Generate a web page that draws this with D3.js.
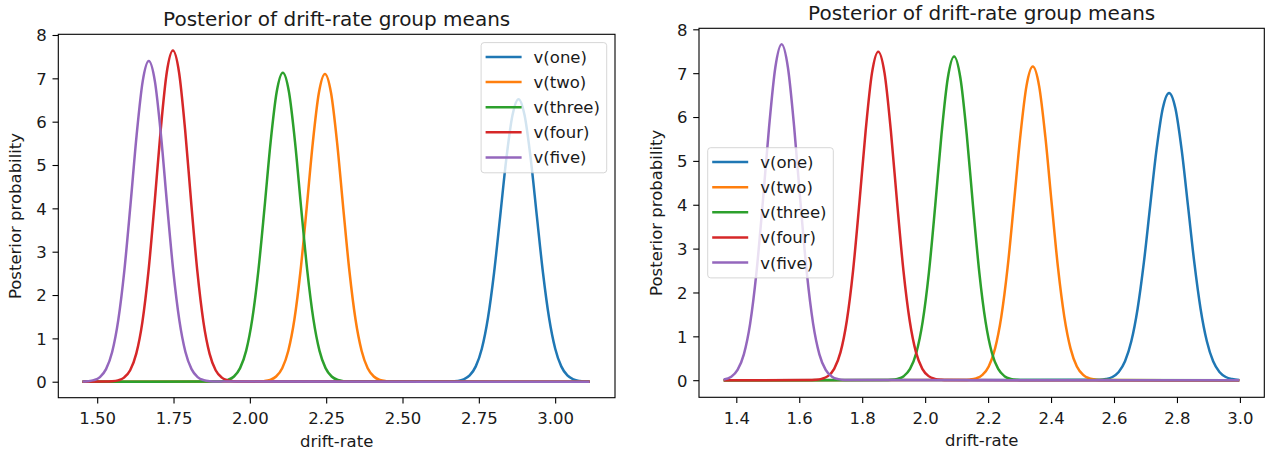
<!DOCTYPE html>
<html>
<head>
<meta charset="utf-8">
<script src="https://cdn.jsdelivr.net/npm/d3@7"></script>
<style>
  html, body { margin: 0; padding: 0; background: #ffffff; }
  svg { display: block; }
  text { font-family: "DejaVu Sans", "Liberation Sans", sans-serif; fill: #1a1a1a; }
</style>
</head>
<body>
<svg id="chart" width="1266" height="453"></svg>
<script>
// ---------------- data ----------------
const seriesNames = ["v(one)", "v(two)", "v(three)", "v(four)", "v(five)"];
const seriesColors = ["#1f77b4", "#ff7f0e", "#2ca02c", "#d62728", "#9467bd"];

const titleText = "Posterior of drift-rate group means";
const xLabelText = "drift-rate";
const yLabelText = "Posterior probability";

const leftXTicks = [1.50, 1.75, 2.00, 2.25, 2.50, 2.75, 3.00];
const rightXTicks = [1.4, 1.6, 1.8, 2.0, 2.2, 2.4, 2.6, 2.8, 3.0];
const yTicks = [0, 1, 2, 3, 4, 5, 6, 7, 8];

// left panel curves: [drift-rate, density]
const leftOne = [[1.452,0],[2.660,0.005],[2.680,0.017],[2.700,0.053],[2.720,0.145],[2.740,0.354],[2.760,0.767],[2.780,1.475],[2.800,2.52],[2.820,3.82],[2.840,5.14],[2.860,6.14],[2.880,6.52],[2.900,6.14],[2.920,5.14],[2.940,3.82],[2.960,2.52],[2.980,1.475],[3.000,0.767],[3.020,0.354],[3.040,0.145],[3.060,0.053],[3.080,0.017],[3.100,0.005],[3.113,0.002]];
const leftTwo = [[1.452,0],[2.026,0.003],[2.046,0.012],[2.066,0.040],[2.086,0.120],[2.106,0.312],[2.126,0.715],[2.146,1.44],[2.166,2.56],[2.186,4.00],[2.206,5.50],[2.226,6.66],[2.246,7.10],[2.266,6.66],[2.286,5.50],[2.306,4.00],[2.326,2.56],[2.346,1.44],[2.366,0.715],[2.386,0.312],[2.406,0.120],[2.426,0.040],[2.446,0.012],[2.466,0.003],[3.113,0]];
const leftThree = [[1.452,0],[1.888,0.003],[1.908,0.012],[1.928,0.041],[1.948,0.120],[1.968,0.313],[1.988,0.718],[2.008,1.45],[2.028,2.57],[2.048,4.01],[2.068,5.53],[2.088,6.69],[2.108,7.13],[2.128,6.69],[2.148,5.53],[2.168,4.01],[2.188,2.57],[2.208,1.45],[2.228,0.718],[2.248,0.313],[2.268,0.120],[2.288,0.041],[2.308,0.012],[2.328,0.003],[3.113,0]];
const leftFour = [[1.452,0],[1.528,0.002],[1.548,0.008],[1.568,0.030],[1.588,0.095],[1.608,0.265],[1.628,0.647],[1.648,1.375],[1.668,2.55],[1.688,4.12],[1.708,5.81],[1.728,7.14],[1.748,7.64],[1.768,7.14],[1.788,5.81],[1.808,4.12],[1.828,2.55],[1.848,1.375],[1.868,0.647],[1.888,0.265],[1.908,0.095],[1.928,0.030],[1.948,0.008],[1.968,0.002],[3.113,0]];
const leftFive = [[1.452,0.003],[1.469,0.010],[1.489,0.035],[1.509,0.107],[1.529,0.29],[1.549,0.685],[1.569,1.42],[1.589,2.57],[1.609,4.08],[1.629,5.68],[1.649,6.93],[1.669,7.40],[1.689,6.93],[1.709,5.68],[1.729,4.08],[1.749,2.57],[1.769,1.42],[1.789,0.685],[1.809,0.29],[1.829,0.107],[1.849,0.035],[1.869,0.010],[1.889,0.003],[3.113,0]];

// right panel curves
const rightOne = [[1.360,0],[2.555,0.008],[2.575,0.026],[2.595,0.073],[2.615,0.187],[2.635,0.43],[2.655,0.886],[2.675,1.63],[2.695,2.69],[2.715,3.98],[2.735,5.25],[2.755,6.20],[2.775,6.55],[2.795,6.20],[2.815,5.25],[2.835,3.98],[2.855,2.69],[2.875,1.63],[2.895,0.886],[2.915,0.43],[2.935,0.187],[2.955,0.073],[2.975,0.026],[2.998,0.007]];
const rightTwo = [[1.360,0],[2.122,0.003],[2.142,0.012],[2.162,0.041],[2.182,0.121],[2.202,0.314],[2.222,0.72],[2.242,1.45],[2.262,2.57],[2.282,4.03],[2.302,5.54],[2.322,6.71],[2.342,7.15],[2.362,6.71],[2.382,5.54],[2.402,4.03],[2.422,2.57],[2.442,1.45],[2.462,0.72],[2.482,0.314],[2.502,0.121],[2.522,0.041],[2.542,0.012],[2.562,0.003],[2.998,0]];
const rightThree = [[1.360,0],[1.872,0.002],[1.892,0.008],[1.912,0.029],[1.932,0.092],[1.952,0.256],[1.972,0.625],[1.992,1.33],[2.012,2.46],[2.032,3.98],[2.052,5.61],[2.072,6.89],[2.092,7.38],[2.112,6.89],[2.132,5.61],[2.152,3.98],[2.172,2.46],[2.192,1.33],[2.212,0.625],[2.232,0.256],[2.252,0.092],[2.272,0.029],[2.292,0.008],[2.312,0.002],[2.998,0]];
const rightFour = [[1.360,0],[1.631,0.002],[1.651,0.008],[1.671,0.029],[1.691,0.093],[1.711,0.26],[1.731,0.634],[1.751,1.35],[1.771,2.50],[1.791,4.04],[1.811,5.69],[1.831,7.00],[1.851,7.49],[1.871,7.00],[1.891,5.69],[1.911,4.04],[1.931,2.50],[1.951,1.35],[1.971,0.634],[1.991,0.26],[2.011,0.093],[2.031,0.029],[2.051,0.008],[2.071,0.002],[2.998,0]];
const rightFive = [[1.360,0.018],[1.384,0.080],[1.404,0.234],[1.424,0.59],[1.444,1.29],[1.464,2.45],[1.484,4.04],[1.504,5.76],[1.524,7.13],[1.544,7.66],[1.564,7.13],[1.584,5.76],[1.604,4.04],[1.624,2.45],[1.644,1.29],[1.664,0.59],[1.684,0.234],[1.704,0.080],[1.724,0.024],[1.744,0.006],[1.764,0.002],[2.998,0]];

const leftSeries = [leftOne, leftTwo, leftThree, leftFour, leftFive];
const rightSeries = [rightOne, rightTwo, rightThree, rightFour, rightFive];

// ---------------- drawing ----------------
const svg = d3.select("#chart");
svg.append("rect").attr("width", 1266).attr("height", 453).attr("fill", "#ffffff");

const FS = 16.5;

function drawPanel(cfg) {
  const x = d3.scaleLinear().domain(cfg.xDomain).range([cfg.x0, cfg.x1]);
  const y = d3.scaleLinear().domain(cfg.yDomain).range([cfg.y1, cfg.y0]);
  const g = svg.append("g");

  const line = d3.line().x(d => x(d[0])).y(d => y(d[1])).curve(d3.curveMonotoneX);
  cfg.series.forEach((s, i) => {
    g.append("path").datum(s)
      .attr("d", line)
      .attr("fill", "none")
      .attr("stroke", seriesColors[i])
      .attr("stroke-width", 2.5)
      .attr("stroke-linejoin", "round");
  });

  // x axis
  const xa = g.append("g").attr("transform", `translate(0,${cfg.y1})`)
    .call(d3.axisBottom(x).tickValues(cfg.xTicks).tickFormat(d3.format(cfg.xFormat)).tickSize(5.8).tickPadding(5.8));
  xa.select(".domain").remove();
  xa.selectAll(".tick line").attr("stroke", "#000").attr("stroke-width", 1.1);
  xa.selectAll(".tick text").attr("y", 26.8).attr("dy", null)
    .style("font-size", FS + "px").attr("fill", "#1a1a1a").style("font-family", "DejaVu Sans");

  // y axis
  const ya = g.append("g").attr("transform", `translate(${cfg.x0},0)`)
    .call(d3.axisLeft(y).tickValues(yTicks).tickFormat(d3.format("d")).tickSize(5.8).tickPadding(5.8));
  ya.select(".domain").remove();
  ya.selectAll(".tick line").attr("stroke", "#000").attr("stroke-width", 1.1);
  ya.selectAll(".tick text").attr("dy", "0.36em")
    .style("font-size", FS + "px").attr("fill", "#1a1a1a").style("font-family", "DejaVu Sans");

  // legend
  const lg = g.append("g");
  const rowH = 25.1, padL = 4.5, handle = 36, gap = 12, padR = 6.8, firstRow = 14.4;
  const tmp = lg.append("text").style("font-size", FS + "px").text(seriesNames.reduce((a, b) => a.length >= b.length ? a : b));
  const tw = tmp.node().getComputedTextLength();
  tmp.remove();
  const lw = padL + handle + gap + tw + padR;
  const lh = firstRow * 2 + rowH * (seriesNames.length - 1) + 1;
  let lx, ly;
  if (cfg.legend === "upper right") { lx = cfg.x1 - 8.3 - lw; ly = cfg.y0 + 8.3; }
  else { lx = cfg.x0 + 8.7; ly = (cfg.y0 + cfg.y1) / 2 - lh / 2; }
  lg.append("rect").attr("x", lx).attr("y", ly).attr("width", lw).attr("height", lh)
    .attr("rx", 3).attr("fill", "#ffffff").attr("fill-opacity", 0.8)
    .attr("stroke", "#cccccc").attr("stroke-opacity", 0.8).attr("stroke-width", 1);
  seriesNames.forEach((name, i) => {
    const ry = ly + firstRow + i * rowH;
    lg.append("line").attr("x1", lx + padL).attr("x2", lx + padL + handle)
      .attr("y1", ry).attr("y2", ry).attr("stroke", seriesColors[i]).attr("stroke-width", 2.5);
    lg.append("text").attr("x", lx + padL + handle + gap).attr("y", ry + 6)
      .style("font-size", FS + "px").text(name);
  });

  // spines
  g.append("rect").attr("x", cfg.x0).attr("y", cfg.y0)
    .attr("width", cfg.x1 - cfg.x0).attr("height", cfg.y1 - cfg.y0)
    .attr("fill", "none").attr("stroke", "#000").attr("stroke-width", 1.1);

  // title & labels
  g.append("text").attr("x", (cfg.x0 + cfg.x1) / 2).attr("y", cfg.y0 - 8.8)
    .attr("text-anchor", "middle").style("font-size", "20px").text(titleText);
  g.append("text").attr("x", (cfg.x0 + cfg.x1) / 2).attr("y", cfg.y1 + 49)
    .attr("text-anchor", "middle").style("font-size", FS + "px").text(xLabelText);
  const ycx = cfg.x0 - 37.5, ycy = (cfg.y0 + cfg.y1) / 2;
  g.append("text").attr("transform", `translate(${ycx},${ycy}) rotate(-90)`)
    .attr("text-anchor", "middle").style("font-size", FS + "px").text(yLabelText);
}

drawPanel({
  x0: 58.3, x1: 615, y0: 34.3, y1: 397.7,
  xDomain: [1.3726, 3.196], yDomain: [-0.369, 8.016],
  xTicks: leftXTicks, xFormat: ".2f",
  series: leftSeries, legend: "upper right"
});
drawPanel({
  x0: 699, x1: 1264.3, y0: 28.3, y1: 397.3,
  xDomain: [1.2815, 3.0775], yDomain: [-0.39, 8.023],
  xTicks: rightXTicks, xFormat: ".1f",
  series: rightSeries, legend: "center left"
});
</script>
</body>
</html>
